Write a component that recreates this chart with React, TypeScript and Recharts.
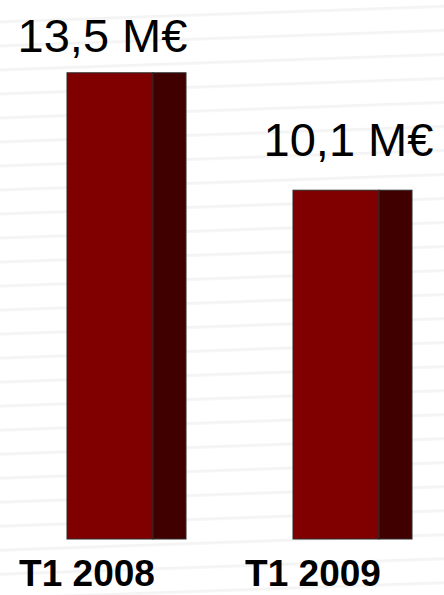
import React from 'react';
import { BarChart, Bar, XAxis, YAxis, LabelList } from 'recharts';

const periods = ['T1 2008', 'T1 2009'];
const revenue = [13.5, 10.1];
const valueLabels = ['13,5 M€', '10,1 M€'];

const data = periods.map((name, i) => ({ name, value: revenue[i], label: valueLabels[i] }));

// label placement tweaks per bar (relative to full bar centre / bar top)
const labelShiftX = [-24, -4];
const labelGapY = [21, 34];
const SIDE_DEPTH = 33;

const ExtrudedBar = (props: any) => {
  const { x, y, width, height } = props;
  const front = width - SIDE_DEPTH;
  return (
    <g>
      <rect x={x} y={y} width={front} height={height} fill="#800000" stroke="#2a2a2a" strokeWidth={1} />
      <rect x={x + front} y={y} width={SIDE_DEPTH} height={height} fill="#400000" stroke="#2a2a2a" strokeWidth={1} />
    </g>
  );
};

const ValueLabel = (props: any) => {
  const { x, y, width, index, value } = props;
  return (
    <text
      x={x + width / 2 + labelShiftX[index]}
      y={y - labelGapY[index]}
      textAnchor="middle"
      fontFamily="Liberation Sans, Arial, sans-serif"
      fontSize={47}
      fill="#000"
    >
      {value}
    </text>
  );
};

const PeriodTick = (props: any) => {
  const { x, y, payload } = props;
  return (
    <text
      x={x - 39}
      y={y + 39}
      textAnchor="middle"
      fontFamily="Liberation Sans, Arial, sans-serif"
      fontWeight="bold"
      fontSize={37}
      fill="#000"
    >
      {payload.value}
    </text>
  );
};

export default function App() {
  return (
    <div
      style={{
        position: 'absolute',
        left: 0,
        top: 0,
        width: 444,
        height: 595,
        overflow: 'hidden',
        background:
          'repeating-linear-gradient(178deg, #ffffff 0px, #ffffff 20px, #f3f3f3 21px, #f6f6f6 23px, #ffffff 24px)',
      }}
    >
      <BarChart
        width={470}
        height={595}
        data={data}
        margin={{ top: 21, right: 5, left: 13, bottom: 0 }}
      >
        <XAxis
          dataKey="name"
          height={56}
          axisLine={false}
          tickLine={false}
          tick={<PeriodTick />}
          interval={0}
        />
        <YAxis hide domain={[0, 15]} />
        <Bar dataKey="value" barSize={119} shape={<ExtrudedBar />} isAnimationActive={false}>
          <LabelList dataKey="label" content={<ValueLabel />} />
        </Bar>
      </BarChart>
    </div>
  );
}
